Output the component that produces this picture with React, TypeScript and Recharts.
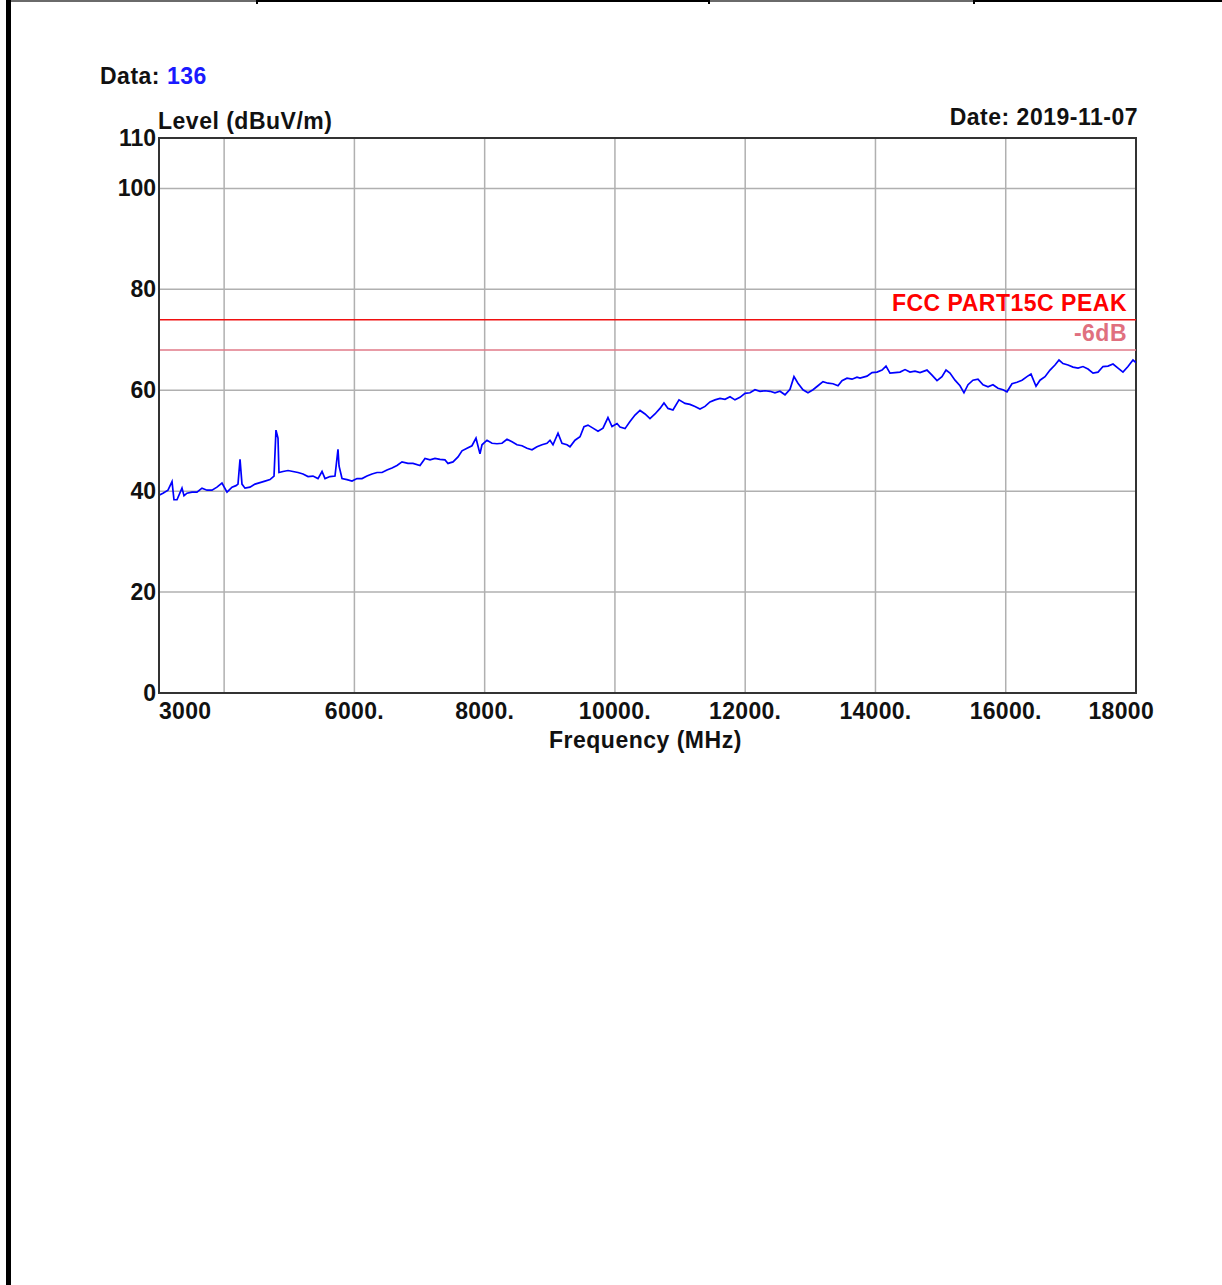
import React from "react";
import {
  CartesianGrid,
  Line,
  LineChart,
  ReferenceArea,
  ReferenceLine,
  XAxis,
  YAxis,
} from "recharts";

/** frequency (MHz) of each trace point */
const freqs = [
  3000, 3061, 3138, 3200, 3230, 3276, 3353, 3384, 3430, 3507, 3583, 3660, 3737, 3814, 3890, 3967,
  4044, 4121, 4182, 4213, 4244, 4274, 4320, 4397, 4474, 4551, 4627, 4704, 4766, 4796, 4827, 4842,
  4904, 4981, 5057, 5134, 5211, 5288, 5364, 5441, 5503, 5549, 5625, 5702, 5748, 5764, 5810, 5886,
  5963, 6040, 6117, 6193, 6270, 6347, 6424, 6500, 6577, 6654, 6731, 6823, 6900, 7007, 7084, 7161,
  7237, 7314, 7391, 7437, 7514, 7591, 7652, 7729, 7805, 7867, 7928, 7959, 8036, 8113, 8189, 8266,
  8343, 8420, 8496, 8573, 8650, 8727, 8803, 8880, 8957, 9003, 9049, 9126, 9187, 9264, 9310, 9387,
  9464, 9525, 9586, 9663, 9740, 9817, 9893, 9955, 10032, 10078, 10155, 10231, 10308, 10385, 10462,
  10538, 10615, 10692, 10753, 10815, 10891, 10984, 11076, 11152, 11229, 11306, 11383, 11459, 11536,
  11613, 11690, 11767, 11843, 11920, 11997, 12074, 12150, 12227, 12304, 12381, 12457, 12534, 12611,
  12688, 12749, 12810, 12887, 12964, 13041, 13117, 13194, 13271, 13348, 13425, 13486, 13563, 13640,
  13716, 13763, 13870, 13947, 14024, 14101, 14162, 14223, 14300, 14377, 14454, 14530, 14607, 14684,
  14791, 14868, 14945, 15021, 15083, 15144, 15221, 15298, 15359, 15421, 15497, 15574, 15651, 15728,
  15804, 15881, 15958, 16019, 16096, 16173, 16250, 16326, 16388, 16465, 16526, 16603, 16680, 16756,
  16818, 16879, 16956, 17033, 17110, 17186, 17263, 17340, 17417, 17493, 17570, 17647, 17724, 17800,
  17877, 17954, 18000,
];

/** measured level (dBuV/m) */
const levels = [
  39.2, 39.6, 40.2, 41.9, 38.3, 38.3, 40.6, 39.1, 39.6, 39.8, 39.8, 40.6, 40.2, 40.2, 40.8, 41.6,
  39.8, 40.8, 41.1, 41.4, 46.3, 41.4, 40.6, 40.8, 41.4, 41.7, 42.0, 42.3, 43.0, 52.1, 50.5, 43.7,
  43.9, 44.1, 43.9, 43.7, 43.4, 42.9, 43.0, 42.5, 43.9, 42.5, 42.9, 43.0, 48.3, 45.0, 42.5, 42.3,
  42.0, 42.5, 42.5, 43.0, 43.4, 43.7, 43.7, 44.2, 44.6, 45.1, 45.8, 45.5, 45.5, 45.1, 46.5, 46.2,
  46.5, 46.3, 46.2, 45.5, 45.8, 46.8, 48.0, 48.5, 49.0, 50.5, 47.4, 49.2, 50.1, 49.5, 49.4, 49.5,
  50.3, 49.8, 49.2, 49.0, 48.5, 48.2, 48.8, 49.2, 49.5, 50.1, 49.2, 51.5, 49.5, 49.2, 48.8, 50.1,
  50.8, 52.8, 53.1, 52.5, 51.9, 52.5, 54.6, 52.8, 53.4, 52.7, 52.4, 53.8, 55.1, 56.0, 55.3,
  54.4, 55.3, 56.4, 57.5, 56.4, 56.1, 58.1, 57.4, 57.2, 56.8, 56.3, 56.8, 57.7, 58.1,
  58.4, 58.2, 58.7, 58.1, 58.6, 59.4, 59.5, 60.1, 59.8, 59.9, 59.8, 59.5, 59.8, 59.1,
  60.2, 62.7, 61.4, 60.1, 59.5, 60.1, 60.9, 61.7, 61.4, 61.3, 60.9, 61.9, 62.4, 62.2,
  62.6, 62.4, 62.8, 63.5, 63.6, 64.0, 64.8, 63.4, 63.5, 63.6, 64.1, 63.6, 63.8, 63.5,
  64.0, 63.0, 61.9, 62.7, 64.0, 63.4, 62.0, 60.9, 59.5, 61.1, 62.0, 62.2, 61.1, 60.7,
  61.1, 60.4, 60.1, 59.7, 61.3, 61.6, 62.0, 62.7, 63.2, 60.8, 62.0, 62.7, 64.0, 65.0,
  66.0, 65.3, 65.0, 64.6, 64.4, 64.7, 64.2, 63.4, 63.6, 64.7, 64.8, 65.2, 64.4, 63.6,
  64.7, 66.0, 65.5,
];

const xTicks = [3000, 4000, 6000, 8000, 10000, 12000, 14000, 16000, 18000];
const yTicks = [0, 20, 40, 60, 80, 100, 110];

const limitPeak = 74;
const limitMargin = 68;

const data = freqs.map((f, i) => ({ f, level: levels[i] }));

const FONT = "'Liberation Sans', Arial, sans-serif";
const textStyle: React.CSSProperties = {
  position: "absolute",
  fontFamily: FONT,
  fontWeight: "bold",
  fontSize: 23,
  letterSpacing: 0.5,
  lineHeight: "26px",
  whiteSpace: "nowrap",
  color: "#111",
};

const XTick = (props: any) => {
  const { x, payload } = props;
  const v = payload.value;
  if (v === 4000) return <g />;
  let anchor = "middle";
  let tx = x;
  let label = `${v}.`;
  if (v === 3000) {
    anchor = "start";
    label = "3000";
  } else if (v === 18000) {
    anchor = "end";
    tx = x + 18;
    label = "18000";
  }
  return (
    <text x={tx} y={719} textAnchor={anchor} fontFamily={FONT} fontWeight="bold" fontSize={23} letterSpacing={0.3} fill="#111">
      {label}
    </text>
  );
};

const YTick = (props: any) => {
  const { y, payload } = props;
  return (
    <text x={156} y={y + 8} textAnchor="end" fontFamily={FONT} fontWeight="bold" fontSize={23} fill="#111">
      {payload.value}
    </text>
  );
};

const limitLabel = (text: string, color: string) => (props: any) => {
  const vb = props.viewBox;
  return (
    <text
      x={vb.x + vb.width - 9}
      y={vb.y - 9}
      textAnchor="end"
      fontFamily={FONT}
      fontWeight="bold"
      fontSize={23}
      letterSpacing={0.5}
      fill={color}
    >
      {text}
    </text>
  );
};

export default function App() {
  return (
    <div style={{ position: "absolute", left: 0, top: 0, width: 1222, height: 1285, background: "#fff", overflow: "hidden" }}>
      {/* page frame */}
      <div style={{ position: "absolute", left: 6, top: 0, width: 5, height: 1285, background: "#000" }} />
      <div style={{ position: "absolute", left: 11, top: 0, width: 246, height: 2, background: "#6a6a6a" }} />
      <div style={{ position: "absolute", left: 257, top: 0, width: 452, height: 2, background: "#000" }} />
      <div style={{ position: "absolute", left: 709, top: 0, width: 265, height: 2, background: "#6a6a6a" }} />
      <div style={{ position: "absolute", left: 974, top: 0, width: 248, height: 2, background: "#000" }} />
      <div style={{ position: "absolute", left: 256, top: 0, width: 2, height: 4, background: "#000" }} />
      <div style={{ position: "absolute", left: 708, top: 0, width: 2, height: 4, background: "#000" }} />
      <div style={{ position: "absolute", left: 973, top: 0, width: 2, height: 4, background: "#000" }} />

      <div style={{ ...textStyle, left: 100, top: 63 }}>
        Data: <span style={{ color: "#1a1aff" }}>136</span>
      </div>
      <div style={{ ...textStyle, left: 158, top: 108 }}>Level (dBuV/m)</div>
      <div style={{ ...textStyle, right: 1222 - 1138, top: 104 }}>Date: 2019-11-07</div>
      <div style={{ ...textStyle, left: 549, top: 727 }}>Frequency (MHz)</div>

      <div style={{ position: "absolute", left: 0, top: 0 }}>
        <LineChart width={1222} height={800} data={data} margin={{ top: 138, right: 86, bottom: 47, left: 99 }}>
          <CartesianGrid stroke="#b0b0b0" strokeWidth={1.5} />
          <XAxis
            dataKey="f"
            type="number"
            domain={[3000, 18000]}
            ticks={xTicks}
            interval={0}
            height={60}
            tickLine={false}
            axisLine={{ stroke: "#333", strokeWidth: 2 }}
            tick={<XTick />}
            allowDataOverflow
          />
          <YAxis
            type="number"
            domain={[0, 110]}
            ticks={yTicks}
            interval={0}
            width={60}
            tickLine={false}
            axisLine={{ stroke: "#333", strokeWidth: 2 }}
            tick={<YTick />}
            allowDataOverflow
          />
          <ReferenceArea x1={3000} x2={18000} y1={0} y2={110} fill="none" fillOpacity={0} stroke="#333" strokeWidth={2} />
          <ReferenceLine y={limitPeak} stroke="#f01010" strokeWidth={1.5} label={limitLabel("FCC PART15C PEAK", "#ff0000")} />
          <ReferenceLine y={limitMargin} stroke="#e07a88" strokeWidth={1.5} label={limitLabel("-6dB", "#e0707f")} />
          <Line
            type="linear"
            dataKey="level"
            stroke="#0000ff"
            strokeWidth={1.7}
            dot={false}
            isAnimationActive={false}
          />
        </LineChart>
      </div>
    </div>
  );
}
